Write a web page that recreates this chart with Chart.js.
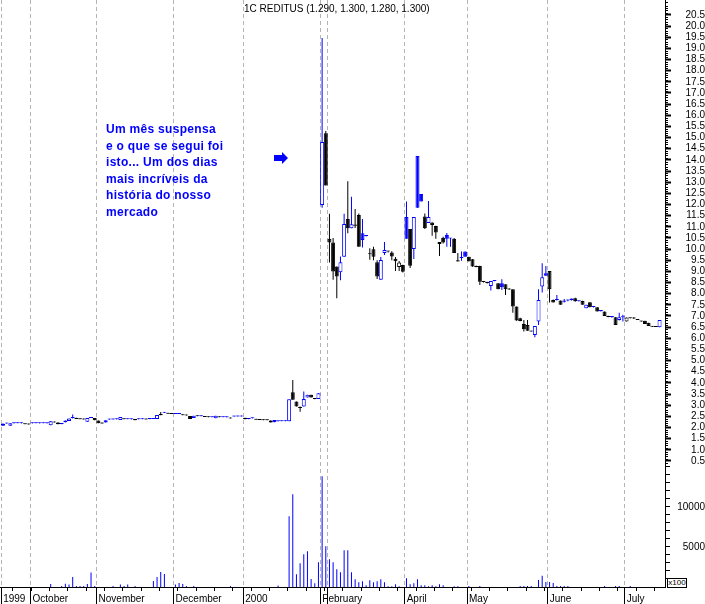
<!DOCTYPE html>
<html><head><meta charset="utf-8">
<script src="https://cdn.jsdelivr.net/npm/chart.js@4.4.1/dist/chart.umd.min.js"></script>
<style>
html,body{margin:0;padding:0;background:#fff;}
#wrap{position:relative;width:705px;height:604px;overflow:hidden;background:#fff;}
canvas{position:absolute;left:0;top:0;}
#title{position:absolute;left:244px;top:3px;font:10px Arial,'Liberation Sans',sans-serif;color:#000;white-space:nowrap;}
#note{position:absolute;left:106px;top:121px;font:bold 12px/16.5px Arial,'Liberation Sans',sans-serif;color:#0000ff;letter-spacing:0.3px;white-space:nowrap;}
#x100{position:absolute;left:667px;top:578px;width:18px;height:8px;border:1px solid #000;background:#fff;font:8px Arial,'Liberation Sans',sans-serif;line-height:8px;text-align:center;color:#000;}
</style></head><body>
<div id="wrap"><canvas id="c" width="705" height="604"></canvas>
<div id="title">1C REDITUS (1.290, 1.300, 1.280, 1.300)</div>
<div id="note">Um mês suspensa<br>e o que se segui foi<br>isto... Um dos dias<br>mais incríveis da<br>história do nosso<br>mercado</div>
<div id="x100">x100</div>
</div>
<script>
// ---- data (one entry per trading day) ----
const opens = [
2.08,2.18,2.08,2.19,2.19,2.19,2.16,2.14,2.19,2.19,
2.19,2.19,2.19,2.10,2.26,2.22,2.18,2.31,2.29,2.42,
2.44,2.40,2.37,2.26,2.43,2.43,2.31,2.22,2.32,2.36,
2.36,2.37,2.34,2.38,2.37,2.37,2.38,2.37,2.37,2.37,
2.38,2.38,2.38,2.60,2.66,2.63,2.62,2.61,2.61,2.56,
2.55,2.52,2.42,2.50,2.50,2.48,2.47,2.46,2.41,2.47,
2.46,2.46,2.41,2.49,2.49,2.49,2.44,2.40,2.41,2.36,
2.35,2.34,2.33,2.31,2.34,2.28,2.28,2.28,2.28,3.58,
3.16,2.88,2.94,3.34,3.47,3.31,3.28,11.98,15.20,10.46,
10.29,9.22,8.96,9.66,11.35,10.93,11.10,11.53,10.71,10.59,
9.80,9.99,9.41,8.62,9.83,9.92,9.85,9.57,9.20,9.29,
11.44,10.90,10.00,14.18,12.47,11.46,11.17,11.19,11.04,10.23,
10.51,10.63,10.48,10.46,9.50,9.60,9.89,9.66,9.54,9.24,
9.24,8.54,8.52,8.35,8.57,8.47,8.47,8.42,8.22,8.20,
7.42,6.90,6.64,6.60,6.31,6.15,6.75,8.32,8.92,9.02,
7.72,7.72,7.69,7.64,7.70,7.78,7.80,7.66,7.67,7.35,
7.62,7.40,7.39,7.27,7.20,7.00,6.95,6.94,6.82,6.94,
6.75,6.90,6.90,6.86,6.76,6.79,6.70,6.52,6.52,6.49];
const highs = [
2.19,2.19,2.19,2.19,2.20,2.19,2.16,2.15,2.19,2.20,
2.19,2.19,2.19,2.29,2.27,2.23,2.19,2.31,2.40,2.58,
2.44,2.40,2.38,2.43,2.44,2.43,2.31,2.22,2.32,2.36,
2.37,2.37,2.47,2.38,2.38,2.37,2.38,2.37,2.38,2.37,
2.38,2.39,2.56,2.70,2.67,2.64,2.62,2.62,2.62,2.57,
2.55,2.52,2.53,2.51,2.51,2.48,2.47,2.47,2.53,2.47,
2.47,2.47,2.41,2.49,2.50,2.50,2.44,2.40,2.41,2.36,
2.36,2.35,2.34,2.32,2.34,2.28,2.28,2.29,3.27,4.13,
3.16,2.94,3.61,3.47,3.47,3.31,3.54,19.47,15.30,11.58,
10.50,9.22,9.67,11.58,13.04,12.35,11.80,11.60,11.35,10.62,
10.04,10.10,9.50,9.65,10.32,9.92,9.90,9.65,9.47,9.30,
12.13,10.90,11.44,14.18,12.47,11.60,12.16,11.20,11.05,10.32,
10.55,10.72,10.50,10.50,9.83,9.89,9.89,9.66,9.56,9.26,
9.25,8.56,8.54,8.57,8.60,8.47,8.65,8.42,8.24,8.20,
7.42,6.92,6.82,6.82,6.32,6.55,8.20,9.36,9.24,9.02,
7.74,7.94,7.70,7.76,7.74,7.78,7.82,7.67,7.68,7.50,
7.62,7.45,7.39,7.27,7.20,7.01,6.96,6.94,7.15,7.05,
6.93,6.91,6.96,6.87,6.76,6.79,6.70,6.53,6.53,6.82];
const lows = [
2.08,2.17,2.08,2.18,2.19,2.18,2.14,2.13,2.18,2.19,
2.18,2.19,2.18,2.10,2.22,2.15,2.15,2.22,2.29,2.40,
2.38,2.37,2.36,2.26,2.42,2.33,2.19,2.17,2.22,2.35,
2.36,2.36,2.34,2.37,2.37,2.36,2.32,2.36,2.37,2.36,
2.37,2.38,2.38,2.55,2.65,2.62,2.61,2.60,2.60,2.55,
2.54,2.38,2.42,2.50,2.50,2.47,2.46,2.46,2.41,2.46,
2.46,2.45,2.40,2.48,2.49,2.49,2.37,2.37,2.40,2.35,
2.34,2.33,2.32,2.22,2.24,2.27,2.28,2.28,2.28,3.24,
2.94,2.71,2.94,3.34,3.35,3.27,3.28,11.85,12.85,9.40,
8.62,7.79,8.60,9.66,10.71,10.93,10.95,10.11,10.07,10.56,
9.52,9.50,8.66,8.62,9.74,9.85,9.50,9.02,9.02,8.95,
10.46,9.15,9.56,11.85,12.13,10.90,11.17,10.60,10.46,9.69,
10.25,10.10,10.10,9.83,9.44,9.48,9.66,9.44,9.21,9.18,
8.39,8.50,8.46,8.14,8.56,8.20,8.17,7.94,8.18,7.15,
6.79,6.76,6.30,6.34,6.29,6.05,6.60,8.05,8.80,7.60,
7.60,7.70,7.50,7.60,7.66,7.70,7.64,7.65,7.50,7.35,
7.39,7.38,7.20,7.20,7.00,6.94,6.92,6.60,6.80,6.75,
6.75,6.89,6.86,6.82,6.74,6.64,6.55,6.51,6.51,6.49];
const closes = [
2.17,2.18,2.19,2.19,2.19,2.19,2.14,2.13,2.19,2.19,
2.19,2.19,2.19,2.28,2.22,2.15,2.16,2.23,2.40,2.42,
2.38,2.37,2.36,2.43,2.43,2.33,2.19,2.18,2.22,2.36,
2.36,2.37,2.47,2.37,2.37,2.37,2.33,2.37,2.37,2.36,
2.38,2.39,2.56,2.55,2.66,2.62,2.61,2.61,2.61,2.55,
2.54,2.38,2.53,2.50,2.50,2.47,2.46,2.46,2.53,2.46,
2.46,2.46,2.40,2.49,2.49,2.49,2.37,2.38,2.41,2.35,
2.34,2.33,2.32,2.22,2.24,2.28,2.28,2.28,3.27,3.24,
2.94,2.87,3.28,3.47,3.35,3.28,3.54,14.80,12.85,10.29,
8.99,8.77,9.41,11.13,10.93,11.11,11.05,10.11,10.41,10.59,
9.77,9.66,8.77,9.51,9.96,9.89,9.67,9.45,9.40,8.98,
10.46,9.25,11.44,11.85,12.13,10.93,11.44,11.08,10.74,10.32,
10.29,10.46,10.48,9.83,9.44,9.62,9.66,9.46,9.22,9.20,
8.54,8.52,8.48,8.57,8.58,8.20,8.29,8.20,8.19,7.42,
6.80,6.78,6.40,6.34,6.30,6.55,7.72,8.74,8.80,8.20,
7.60,7.72,7.50,7.70,7.71,7.71,7.66,7.66,7.50,7.50,
7.39,7.42,7.20,7.21,7.00,6.95,6.95,6.60,6.94,6.94,
6.93,6.90,6.89,6.82,6.75,6.64,6.55,6.52,6.51,6.82];
const volumes = [
0,0,0,0,0,0,0,0,0,0,
0,0,0,375,0,0,125,400,300,1250,
125,125,125,375,1800,125,0,0,0,0,
125,0,300,125,300,0,125,0,0,0,
0,750,1250,1875,1625,0,0,300,500,375,
125,0,125,0,0,0,0,0,0,0,
0,0,125,0,0,0,0,0,0,0,
0,0,0,0,0,200,0,0,8830,11580,
1580,2960,4080,4460,1000,460,3080,13830,5080,3460,
3080,2210,1830,4580,4580,1830,960,580,710,210,
830,580,710,960,580,80,80,330,80,0,
1080,330,460,960,210,210,80,210,80,330,
210,0,0,80,80,0,0,125,0,0,
125,0,0,0,0,0,0,0,0,0,
0,125,125,125,125,0,875,1417,625,625,
500,125,125,125,125,0,0,0,0,0,
0,0,0,0,125,0,0,125,125,0,
0,125,0,0,0,0,0,0,0,0];
// first trading day of each month (bar index) and its axis label
const monthStarts = [0, 8, 26, 47, 66, 87, 89, 110, 127, 149, 170];
const monthLabels = ['1999','October','November','December','2000','February','','April','May','June','July'];
const priceTicks = [0.5,1,1.5,2,2.5,3,3.5,4,4.5,5,5.5,6,6.5,7,7.5,8,8.5,9,9.5,10,10.5,11,11.5,12,12.5,13,13.5,14,14.5,15,15.5,16,16.5,17,17.5,18,18.5,19,19.5,20,20.5];
const volTicks = [1000,2000,3000,4000,5000,6000,7000,8000,9000,10000,11000,12000,13000,14000,15000];
const volLabels = [5000, 10000];

// ---- styling ----
const BLUE = '#0000ff', BLACK = '#000000';
const FONT = "Arial, 'Liberation Sans', sans-serif";
const idx = closes.map((_, i) => i);
const up = closes.map((c, i) => i === 0 ? c >= opens[0] : c >= closes[i - 1]);
const col = up.map(u => u ? BLUE : BLACK);
const hollow = closes.map((c, i) => c > opens[i]);

const bodyData = idx.map(i => ({x: i, y: [Math.min(opens[i], closes[i]), Math.max(opens[i], closes[i])]}));
const wickData = idx.map(i => ({x: i, y: [lows[i], highs[i]]}));
const volData = idx.map(i => ({x: i, y: volumes[i] > 0 ? volumes[i] : null}));

const fitFix = (w, h) => s => {
  if (w !== null) s.width = w;
  if (h !== null) s.height = h;
  s.paddingTop = 0; s.paddingBottom = 0; s.paddingLeft = 0; s.paddingRight = 0;
};

const decor = {
  id: 'decor',
  afterDraw(chart) {
    const ctx = chart.ctx, y = chart.scales.y, x = chart.scales.x;
    ctx.save();
    ctx.strokeStyle = '#000'; ctx.lineWidth = 1;
    ctx.beginPath();
    for (let k = 4; k <= 211; k++) {
      if (k % 5 === 0) continue;
      const py = Math.round(y.getPixelForValue(k / 10)) + 0.5;
      ctx.moveTo(y.left, py); ctx.lineTo(y.left + 3, py);
    }
    for (let k = 3; k < closes.length; k += 5) {
      const px = Math.round(x.getPixelForValue(k - 0.5)) + 0.5;
      ctx.moveTo(px, x.top); ctx.lineTo(px, x.top + 4);
    }
    ctx.stroke();
    // arrow next to the annotation
    ctx.fillStyle = BLUE;
    ctx.beginPath();
    ctx.moveTo(274, 155); ctx.lineTo(282, 155); ctx.lineTo(282, 152);
    ctx.lineTo(288, 158); ctx.lineTo(282, 164); ctx.lineTo(282, 161);
    ctx.lineTo(274, 161); ctx.closePath(); ctx.fill();
    ctx.restore();
  }
};

new Chart(document.getElementById('c'), {
  type: 'bar',
  data: {
    datasets: [
      {label: 'body', data: bodyData, yAxisID: 'y', barThickness: 4,
       backgroundColor: idx.map(i => hollow[i] ? '#ffffff' : col[i]), borderColor: col,
       borderWidth: 1, borderSkipped: false, minBarLength: 1, grouped: false, inflateAmount: 0, order: 0},
      {label: 'wick', data: wickData, yAxisID: 'y', barThickness: 1, backgroundColor: col,
       borderWidth: 0, minBarLength: 1, grouped: false, inflateAmount: 0, order: 1},
      {label: 'volume', data: volData, yAxisID: 'yv', barThickness: 1, backgroundColor: BLUE,
       borderWidth: 0, grouped: false, inflateAmount: 0, order: 2}
    ]
  },
  options: {
    responsive: false, animation: false, devicePixelRatio: 1,
    layout: {padding: 0},
    plugins: {legend: {display: false}, tooltip: {enabled: false}, title: {display: false}},
    scales: {
      x: {
        type: 'linear', position: 'bottom', min: -0.82, max: 180.48, offset: false,
        afterBuildTicks: s => { s.ticks = monthStarts.map(v => ({value: v - 0.5})); },
        afterFit: fitFix(null, 17),
        grid: {offset: false, color: '#b4b4b4', lineWidth: 1, drawOnChartArea: true,
               tickLength: 17, tickColor: '#000', tickBorderDash: []},
        border: {color: '#000', width: 1, dash: [4, 3]},
        ticks: {autoSkip: false, maxRotation: 0, minRotation: 0, align: 'start', labelOffset: 2,
                padding: -11, color: '#000', font: {family: FONT, size: 10},
                callback: (v, i) => monthLabels[i]}
      },
      y: {
        type: 'linear', position: 'right', stack: 'panels', stackWeight: 463.3,
        min: 0.394, max: 21.17, offset: false,
        afterBuildTicks: s => { s.ticks = priceTicks.map(v => ({value: v})); },
        afterFit: fitFix(40, null),
        grid: {drawOnChartArea: false, tickLength: 6, tickWidth: 2, tickColor: '#000'},
        border: {color: '#000', width: 1},
        ticks: {autoSkip: false, crossAlign: 'far', padding: 7, color: '#000',
                font: {family: FONT, size: 10}, callback: v => Number(v).toFixed(1)}
      },
      yv: {
        type: 'linear', position: 'right', stack: 'panels', stackWeight: 123.7,
        min: 0, max: 15460, offset: false,
        afterBuildTicks: s => { s.ticks = volTicks.map(v => ({value: v})); },
        afterFit: fitFix(40, null),
        grid: {drawOnChartArea: false, tickLength: 5, tickWidth: 1, tickColor: '#000'},
        border: {color: '#000', width: 1},
        ticks: {autoSkip: false, crossAlign: 'far', padding: 4, color: '#000',
                font: {family: FONT, size: 10}, callback: v => volLabels.includes(v) ? String(v) : ''}
      }
    }
  },
  plugins: [decor]
});
</script>
</body></html>
